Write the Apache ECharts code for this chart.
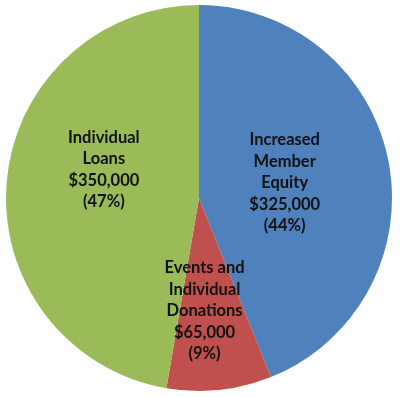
<!DOCTYPE html>
<html>
<head>
<meta charset="utf-8">
<script src="https://cdn.jsdelivr.net/npm/echarts@6/dist/echarts.min.js"></script>
<style>
  html, body { margin: 0; padding: 0; background: #fff; }
  #main { width: 400px; height: 397px; }
</style>
</head>
<body>
<div id="main"></div>
<script>
// slices, clockwise from 12 o'clock
const names = ['Increased\nMember\nEquity', 'Events and\nIndividual\nDonations', 'Individual\nLoans']
const amounts = [325000, 65000, 350000]
const percents = ['44%', '9%', '47%']
const colors = ['#4F81BD', '#C0504D', '#9BBB59']
// nudge the labels to where the original put them
const labelOffsets = [[-12, 4], [-5, 14], [4, -20]]

const chart = echarts.init(document.getElementById('main'))

const pieData = names.map((n, i) => ({
  name: n,
  value: amounts[i],
  itemStyle: { color: colors[i] },
  label: { offset: labelOffsets[i] }
}))

chart.setOption({
  animation: false,
  series: [{
    type: 'pie',
    center: [199, 198],
    radius: [0, 193],
    startAngle: 90,
    clockwise: true,
    data: pieData,
    itemStyle: { borderWidth: 0 },
    label: {
      show: true,
      position: 'inside',
      color: '#111',
      fontFamily: 'Lato',
      fontWeight: 'bold',
      fontSize: 16.5,
      lineHeight: 21.5,
      align: 'center',
      formatter: p => {
        const i = p.dataIndex
        return p.name + '\n$' + amounts[i].toLocaleString('en-US') + '\n(' + percents[i] + ')'
      }
    },
    labelLine: { show: false },
    emphasis: { disabled: true }
  }]
})
</script>
</body>
</html>
